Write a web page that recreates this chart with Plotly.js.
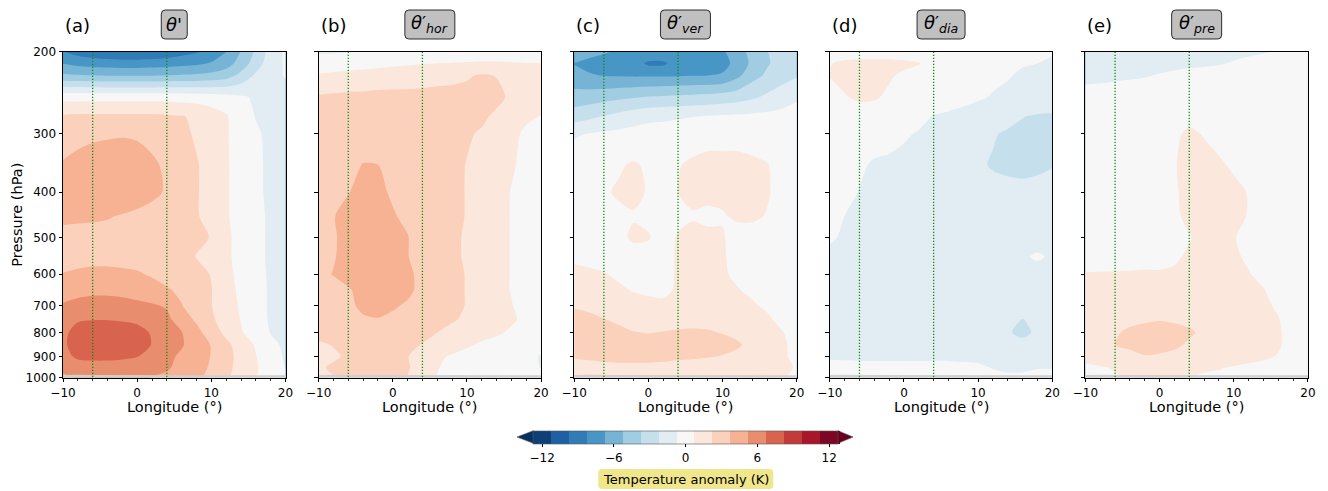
<!DOCTYPE html>
<html>
<head>
<meta charset="utf-8">
<script src="https://cdn.plot.ly/plotly-3.0.1.min.js"></script>
<style>html,body{margin:0;padding:0;background:#fff}</style>
</head>
<body>
<div id="chart" style="width:1328px;height:491px"></div>
<script>
// Longitude grid (deg) and pressure levels (hPa)
const lon = [-10,-8,-6,-4,-2,0,2,4,6,8,10,12,14,16,18,20];
const pressure = [200,212,225,250,275,300,350,400,450,500,550,600,650,700,750,800,850,900,950,1000];

// Temperature anomaly (K), one row per pressure level
const thetaTotal = [
  [-8.2,-8.8,-9.2,-9.5,-9.6,-9.6,-9.5,-9.2,-8.8,-8.4,-7.8,-6.8,-5.2,-3.5,-1.6,-0.5],
  [-6.8,-7.2,-7.4,-7.5,-7.6,-7.6,-7.5,-7.4,-7.2,-7.0,-6.6,-5.9,-4.6,-3.0,-1.4,-0.6],
  [-5.0,-5.1,-5.2,-5.3,-5.3,-5.3,-5.3,-5.2,-5.1,-5.0,-4.8,-4.4,-3.3,-2.0,-1.0,-0.7],
  [0.2,0.2,0.2,0.2,0.2,0.2,0.2,0.2,0.1,0.0,-0.1,-0.3,-0.6,-0.9,-1.0,-1.0],
  [2.4,2.5,2.5,2.5,2.5,2.5,2.5,2.4,2.3,2.1,1.5,0.9,-0.2,-0.8,-1.1,-1.1],
  [3.0,3.2,3.4,3.5,3.6,3.5,3.3,3.0,2.7,2.0,1.4,0.9,0.0,-0.6,-1.0,-1.1],
  [3.9,4.3,4.6,4.8,4.8,4.6,4.0,3.5,3.0,2.4,1.5,0.9,0.2,-0.5,-1.0,-1.3],
  [4.5,4.7,4.9,5.0,4.9,4.6,4.1,3.6,3.0,2.4,1.5,0.9,0.2,-0.5,-1.0,-1.2],
  [4.1,4.0,3.95,3.85,3.65,3.4,3.2,3.0,2.7,2.4,1.6,0.9,0.2,-0.5,-0.9,-1.1],
  [3.3,3.3,3.3,3.3,3.2,3.1,3.0,2.9,2.7,2.5,2.2,1.0,0.3,-0.5,-0.9,-1.1],
  [3.2,3.2,3.3,3.3,3.3,3.2,3.1,3.0,2.7,2.2,1.8,1.0,0.3,-0.5,-0.9,-1.1],
  [3.8,4.0,4.1,4.1,4.0,3.9,3.6,3.3,3.0,2.6,2.2,1.1,0.4,-0.4,-0.9,-1.1],
  [4.6,4.8,4.9,4.9,4.8,4.6,4.3,3.9,3.5,2.9,2.3,1.2,0.5,-0.3,-0.9,-1.1],
  [5.4,5.7,5.9,5.9,5.8,5.6,5.4,5.1,3.8,3.0,2.3,1.3,0.6,-0.3,-0.9,-1.1],
  [6.2,6.6,6.7,6.7,6.6,6.4,6.0,5.6,4.5,3.5,2.5,1.5,0.7,-0.2,-0.9,-1.1],
  [6.4,7.3,7.6,7.6,7.5,7.3,6.6,6.0,5.3,4.2,3.0,1.9,0.9,0.0,-0.8,-1.1],
  [6.5,7.4,7.7,7.7,7.6,7.4,6.7,6.0,5.4,4.4,3.7,2.6,1.6,0.6,-0.4,-1.0],
  [6.3,7.0,7.1,7.1,7.0,6.8,6.2,5.6,5.0,4.3,3.7,2.7,1.8,0.8,-0.2,-0.9],
  [5.9,6.1,6.2,6.2,6.1,6.0,5.7,5.4,4.9,4.2,3.6,2.6,1.8,0.9,0.0,-0.8],
  [4.8,5.4,5.6,5.6,5.5,5.4,5.2,5.0,4.6,4.0,3.4,2.5,1.6,0.8,0.0,-0.6]
];

const thetaHor = [
  [-0.9,-0.9,-0.8,-0.6,-0.4,-0.3,-0.2,-0.1,0.0,0.0,0.0,0.0,0.0,-0.1,-0.2,-0.2],
  [0.0,0.1,0.2,0.3,0.4,0.5,0.6,0.7,0.75,0.8,0.85,0.9,0.9,0.85,0.8,0.8],
  [0.9,1.0,1.1,1.2,1.3,1.4,1.5,1.6,1.8,1.9,2.1,2.4,2.2,1.8,1.3,1.1],
  [2.4,2.5,2.6,2.6,2.7,2.7,2.7,2.7,2.7,2.7,2.7,2.7,2.6,2.0,1.6,1.3],
  [2.6,2.7,2.8,2.8,2.9,2.9,2.9,2.9,2.8,2.7,2.6,2.5,2.0,1.4,1.0,0.7],
  [2.8,2.9,3.0,3.0,3.1,3.1,3.0,2.9,2.8,2.6,2.4,2.1,1.6,1.1,0.5,0.3],
  [3.0,3.2,3.4,3.8,3.76,3.3,3.1,2.95,2.8,2.6,2.2,1.8,1.3,0.9,0.4,0.2],
  [3.1,3.3,3.7,4.1,4.0,3.6,3.3,3.0,2.8,2.5,2.2,1.7,1.2,0.7,0.3,0.2],
  [3.3,3.7,4.1,4.4,4.4,3.85,3.5,3.1,2.8,2.5,2.2,1.6,1.1,0.7,0.3,0.2],
  [3.4,3.6,4.2,4.5,4.5,4.2,3.8,3.1,2.8,2.5,2.1,1.5,1.1,0.7,0.3,0.2],
  [3.4,3.65,4.2,4.5,4.5,4.2,3.8,3.2,2.8,2.5,2.1,1.5,1.1,0.7,0.3,0.2],
  [3.4,3.8,4.3,4.5,4.5,4.3,4.0,3.4,2.8,2.5,2.2,1.5,1.1,0.7,0.3,0.2],
  [3.0,3.3,3.6,4.2,4.4,4.3,4.0,3.4,2.8,2.5,2.2,1.5,1.1,0.7,0.3,0.2],
  [2.9,3.1,3.5,4.0,4.1,3.9,3.6,3.2,2.8,2.5,2.2,1.5,1.1,0.8,0.3,0.2],
  [2.8,2.9,3.2,3.6,3.7,3.5,3.2,3.0,2.7,2.4,2.0,1.4,1.1,0.9,0.5,0.2],
  [2.6,2.7,2.9,3.1,3.2,3.1,2.9,2.6,2.25,1.8,1.4,1.1,0.9,0.6,0.3,0.1],
  [2.1,2.3,2.6,2.8,2.8,2.7,2.5,2.2,1.8,1.4,0.9,0.6,0.4,0.2,0.1,-0.2],
  [1.8,2.1,2.4,2.6,2.6,2.5,2.3,1.7,1.0,0.6,0.4,0.3,0.2,0.1,-0.1,-0.9],
  [2.1,2.4,2.6,2.7,2.7,2.6,2.4,1.5,0.8,0.5,0.4,0.3,0.2,0.1,-0.2,-0.8],
  [1.8,2.2,2.4,2.5,2.5,2.4,2.2,1.3,0.7,0.4,0.3,0.2,0.1,0.0,-0.2,-0.4]
];

const thetaVer = [
  [-5.5,-6.2,-6.6,-6.9,-7.0,-7.2,-7.2,-7.1,-7.0,-7.0,-6.9,-6.1,-4.6,-3.8,-3.1,-2.7],
  [-6.8,-7.2,-7.4,-7.5,-7.6,-8.5,-8.5,-7.6,-7.5,-7.4,-7.2,-6.3,-4.9,-3.9,-3.2,-2.8],
  [-6.3,-6.6,-6.8,-6.85,-6.9,-6.9,-6.9,-6.85,-6.8,-6.75,-6.6,-5.6,-4.3,-3.5,-2.9,-2.4],
  [-4.6,-4.5,-4.3,-4.1,-3.9,-3.7,-3.6,-3.5,-3.4,-3.3,-3.1,-2.9,-2.5,-2.0,-1.4,-0.9],
  [-3.0,-2.6,-2.2,-1.8,-1.4,-1.1,-1.0,-0.9,-0.8,-0.7,-0.6,-0.5,-0.45,-0.4,-0.35,-0.3],
  [-0.9,-0.7,-0.5,-0.4,-0.3,-0.2,-0.2,-0.1,0.3,0.5,0.5,0.5,0.4,0.2,-0.1,-0.1],
  [0.0,0.1,0.3,0.6,0.9,0.55,0.4,0.7,0.9,0.95,0.95,0.95,0.9,0.8,0.4,0.2],
  [0.0,0.2,0.6,0.9,0.9,0.7,0.5,0.76,0.9,0.95,0.9,0.9,0.9,0.85,0.4,0.2],
  [0.0,0.1,0.3,0.5,0.7,0.6,0.5,0.6,0.7,0.6,0.7,0.85,0.9,0.7,0.3,0.1],
  [0.1,0.2,0.4,0.6,0.85,0.8,0.5,0.8,0.9,0.9,0.8,0.5,0.4,0.3,0.2,0.1],
  [0.6,0.5,0.4,0.4,0.5,0.5,0.6,0.8,0.9,0.9,0.8,0.6,0.4,0.3,0.2,0.1],
  [0.95,0.9,0.8,0.6,0.5,0.5,0.6,0.8,0.95,0.95,0.85,0.6,0.4,0.3,0.2,0.1],
  [1.2,1.1,1.0,0.9,0.7,0.6,0.6,0.85,1.0,1.0,0.95,0.8,0.6,0.4,0.2,0.1],
  [2.1,1.9,1.6,1.3,1.1,1.0,0.9,1.1,1.3,1.3,1.2,1.0,0.85,0.6,0.3,0.1],
  [2.8,2.6,2.3,2.0,1.8,1.7,1.7,1.8,1.9,1.9,1.8,1.5,1.2,0.9,0.5,0.2],
  [3.0,2.9,2.8,2.6,2.3,2.2,2.3,2.4,2.4,2.35,2.2,1.8,1.4,1.0,0.8,0.4],
  [3.1,3.1,3.0,3.0,2.9,2.9,2.9,2.9,2.8,2.7,2.6,2.5,1.7,1.2,0.9,0.5],
  [2.4,2.5,2.6,2.6,2.6,2.6,2.6,2.5,2.45,2.35,2.2,1.8,1.4,1.1,0.85,0.6],
  [1.7,1.8,1.9,2.0,2.0,2.0,1.9,1.8,1.7,1.6,1.5,1.3,1.1,1.0,0.9,0.7],
  [1.2,1.3,1.4,1.4,1.4,1.4,1.4,1.3,1.2,1.2,1.1,1.0,0.9,0.9,0.8,0.6]
];

const thetaDia = [
  [-0.2,0.2,0.3,0.3,0.3,0.2,0.1,0.0,-0.1,-0.2,-0.3,-0.4,-0.5,-0.5,-0.6,-0.7],
  [0.7,0.95,1.0,1.0,1.0,0.95,0.8,0.3,0.0,-0.2,-0.4,-0.5,-0.6,-0.7,-0.75,-0.85],
  [0.8,0.95,1.0,0.95,0.85,0.6,0.3,0.0,-0.2,-0.3,-0.5,-0.6,-0.7,-0.85,-0.9,-1.0],
  [0.3,0.7,0.9,0.85,0.6,0.3,0.1,-0.1,-0.3,-0.5,-0.65,-0.8,-0.9,-1.0,-1.0,-1.0],
  [0.1,0.2,0.3,0.3,0.2,0.0,-0.4,-0.8,-0.9,-1.0,-1.1,-1.3,-1.6,-2.2,-2.4,-2.5],
  [0.1,0.1,0.1,0.0,-0.3,-0.6,-0.85,-1.0,-1.1,-1.2,-1.5,-2.1,-2.5,-2.6,-2.6,-2.6],
  [0.1,0.0,-0.5,-0.95,-1.0,-1.1,-1.1,-1.1,-1.2,-1.4,-2.0,-2.4,-2.5,-2.5,-2.4,-2.3],
  [0.0,-0.3,-0.8,-1.0,-1.1,-1.1,-1.1,-1.2,-1.2,-1.3,-1.5,-1.7,-1.9,-2.0,-2.0,-1.9],
  [0.0,-0.75,-1.0,-1.1,-1.1,-1.1,-1.2,-1.2,-1.2,-1.3,-1.3,-1.4,-1.5,-1.5,-1.5,-1.5],
  [-0.6,-0.9,-1.1,-1.1,-1.1,-1.2,-1.2,-1.2,-1.2,-1.2,-1.3,-1.3,-1.3,-1.3,-1.3,-1.3],
  [-1.0,-1.1,-1.1,-1.1,-1.2,-1.2,-1.2,-1.2,-1.2,-1.2,-1.2,-1.2,-1.1,-0.9,-0.6,-0.9],
  [-1.1,-1.2,-1.2,-1.2,-1.2,-1.2,-1.2,-1.2,-1.2,-1.2,-1.2,-1.2,-1.2,-1.2,-1.2,-1.2],
  [-1.2,-1.2,-1.2,-1.2,-1.2,-1.2,-1.2,-1.2,-1.2,-1.2,-1.2,-1.2,-1.2,-1.2,-1.2,-1.2],
  [-1.2,-1.2,-1.2,-1.2,-1.2,-1.3,-1.3,-1.3,-1.3,-1.3,-1.3,-1.3,-1.3,-1.3,-1.3,-1.2],
  [-1.2,-1.2,-1.3,-1.3,-1.3,-1.3,-1.3,-1.3,-1.3,-1.3,-1.3,-1.4,-1.8,-2.3,-1.8,-1.3],
  [-1.2,-1.2,-1.3,-1.3,-1.3,-1.3,-1.3,-1.3,-1.3,-1.3,-1.3,-1.5,-2.1,-2.6,-2.0,-1.3],
  [-1.1,-1.1,-1.2,-1.2,-1.2,-1.2,-1.2,-1.2,-1.2,-1.2,-1.2,-1.4,-2.0,-1.8,-1.4,-1.2],
  [-0.9,-0.95,-1.0,-1.0,-1.0,-1.0,-1.0,-1.0,-1.0,-1.0,-1.0,-1.0,-1.0,-1.0,-1.0,-1.0],
  [-0.4,-0.4,-0.4,-0.4,-0.4,-0.4,-0.4,-0.4,-0.4,-0.5,-0.6,-0.8,-0.9,-0.9,-0.8,-0.8],
  [-0.2,-0.2,-0.2,-0.2,-0.2,-0.2,-0.2,-0.2,-0.3,-0.3,-0.4,-0.5,-0.6,-0.6,-0.5,-0.5]
];

const thetaPre = [
  [-1.2,-1.2,-1.2,-1.2,-1.2,-1.2,-1.2,-1.1,-1.1,-1.0,-0.9,-0.85,-0.8,-0.7,-0.5,-0.4],
  [-1.1,-1.1,-1.1,-1.1,-1.05,-1.0,-0.95,-0.9,-0.85,-0.8,-0.7,-0.6,-0.5,-0.4,-0.3,-0.3],
  [-1.0,-0.95,-0.9,-0.85,-0.8,-0.7,-0.6,-0.5,-0.5,-0.4,-0.3,-0.3,-0.2,-0.2,-0.2,-0.2],
  [-0.4,-0.4,-0.35,-0.3,-0.3,-0.2,-0.2,-0.2,-0.1,-0.1,-0.1,-0.1,-0.1,-0.1,-0.1,-0.1],
  [-0.1,-0.1,-0.1,0.0,0.0,0.1,0.3,0.5,0.4,0.2,0.1,0.0,0.0,0.0,0.0,0.0],
  [0.0,0.0,0.1,0.1,0.2,0.3,0.6,0.9,0.7,0.4,0.2,0.1,0.1,0.0,0.0,0.0],
  [0.0,0.1,0.1,0.2,0.3,0.4,0.7,1.0,1.0,0.9,0.6,0.3,0.1,0.0,0.0,0.0],
  [0.0,0.1,0.2,0.2,0.3,0.5,0.65,1.0,1.1,1.1,1.0,0.7,0.4,0.1,0.0,0.0],
  [0.0,0.1,0.2,0.3,0.4,0.5,0.6,0.95,1.1,1.1,1.0,0.7,0.4,0.1,0.0,0.0],
  [0.1,0.2,0.3,0.4,0.45,0.5,0.55,0.7,1.0,1.0,0.8,0.5,0.3,0.1,0.0,0.0],
  [0.4,0.45,0.5,0.55,0.6,0.6,0.65,0.85,1.1,1.1,0.9,0.6,0.3,0.1,0.0,0.0],
  [0.8,0.8,0.8,0.8,0.8,0.8,0.85,1.0,1.1,1.1,1.0,0.8,0.5,0.2,0.0,0.0],
  [0.9,1.0,1.0,1.05,1.1,1.1,1.1,1.1,1.2,1.2,1.1,1.0,0.8,0.4,0.1,0.0],
  [0.9,1.0,1.1,1.2,1.3,1.3,1.3,1.3,1.3,1.3,1.2,1.1,0.95,0.6,0.2,0.0],
  [1.0,1.2,1.5,1.9,2.1,2.2,2.1,1.8,1.6,1.5,1.4,1.2,1.0,0.8,0.3,0.1],
  [1.2,1.5,2.1,2.5,2.6,2.6,2.6,2.5,1.9,1.6,1.4,1.2,1.0,0.85,0.4,0.1],
  [1.2,1.5,2.25,2.6,2.7,2.7,2.6,2.0,1.6,1.4,1.3,1.2,1.0,0.85,0.4,0.1],
  [1.0,1.2,1.5,1.8,2.2,2.1,1.8,1.5,1.3,1.2,1.1,1.0,0.9,0.7,0.3,0.1],
  [0.6,0.7,0.8,0.85,0.85,0.85,0.85,0.85,0.8,0.8,0.7,0.6,0.5,0.3,0.1,0.0],
  [0.3,0.5,0.7,0.8,0.8,0.8,0.8,0.75,0.7,0.6,0.5,0.4,0.3,0.2,0.1,0.0]
];

// Top of the masked near-surface layer (hPa) along longitude
const surfaceP = [987,985,987,987,986,987,986,987,988,988,987,987,988,986,987,988];

// Box edges (longitude) marked with dotted lines
const boxLons = [-6, 4];

const panelLabels = ['(a)', '(b)', '(c)', '(d)', '(e)'];
const panelTitles = [
  "<i>θ</i>'",
  "<i>θ</i>′<sub><i>hor</i></sub>",
  "<i>θ</i>′<sub><i>ver</i></sub>",
  "<i>θ</i>′<sub><i>dia</i></sub>",
  "<i>θ</i>′<sub><i>pre</i></sub>"
];
const fields = [thetaTotal, thetaHor, thetaVer, thetaDia, thetaPre];

const pressureTicks = [200,300,400,500,600,700,800,900,1000];
const lonTicks = [-10,0,10,20];
const cbarTicks = [-12,-6,0,6,12];

// Filled contour levels (K)
const levelStart = -12.75, levelEnd = 12.75, levelStep = 1.5;

// RdBu reversed
const rdbuR = [
  [0.0,'#053061'],[0.1,'#2166ac'],[0.2,'#4393c3'],[0.3,'#92c5de'],[0.4,'#d1e5f0'],
  [0.5,'#f7f7f7'],[0.6,'#fddbc7'],[0.7,'#f4a582'],[0.8,'#d6604d'],[0.9,'#b2182b'],[1.0,'#67001f']
];

// ---- layout helpers (pixel -> paper fraction) ----
const W = 1328, H = 491;
const fx = px => px / W;
const fy = py => 1 - py / H;
const panelLeft = [63, 318.6, 574.2, 829.8, 1085.4];
const panelWidth = 222.5;
const plotTop = 51.7, plotBottom = 377.7;
const FONT = 'DejaVu Sans, Liberation Sans, sans-serif';

const cbLeft = 533.3, cbRight = 838.0, cbTop = 430.7, cbBottom = 443.3;

// Rounded rectangle path in paper units from a pixel box
function roundRect(x0, y0, x1, y1, r) {
  const P = (x, y) => `${fx(x)},${fy(y)}`;
  return `M ${P(x0 + r, y0)} L ${P(x1 - r, y0)} Q ${P(x1, y0)} ${P(x1, y0 + r)} ` +
         `L ${P(x1, y1 - r)} Q ${P(x1, y1)} ${P(x1 - r, y1)} ` +
         `L ${P(x0 + r, y1)} Q ${P(x0, y1)} ${P(x0, y1 - r)} ` +
         `L ${P(x0, y0 + r)} Q ${P(x0, y0)} ${P(x0 + r, y0)} Z`;
}
// Title box widths (px)
const titleBoxW = [26, 50, 50, 48, 50];

const traces = [];
const layout = {
  width: W, height: H,
  margin: {l: 0, r: 0, t: 0, b: 0},
  paper_bgcolor: '#ffffff', plot_bgcolor: '#ffffff',
  font: {family: FONT, color: '#000'},
  showlegend: false,
  annotations: [],
  shapes: []
};

fields.forEach((z, i) => {
  const sfx = i === 0 ? '' : String(i + 1);
  const xa = 'x' + sfx, ya = 'y' + sfx;

  traces.push({
    type: 'contour', x: lon, y: pressure, z: z,
    xaxis: xa, yaxis: ya,
    colorscale: rdbuR, zmin: levelStart, zmax: levelEnd, zauto: false,
    autocontour: false,
    contours: {start: levelStart, end: levelEnd, size: levelStep, coloring: 'fill', showlines: false},
    line: {width: 0, smoothing: 0.8},
    showscale: i === 0,
    colorbar: {
      orientation: 'h',
      x: fx((cbLeft + cbRight) / 2), xanchor: 'center',
      y: fy(cbTop), yanchor: 'top',
      len: cbRight - cbLeft, lenmode: 'pixels',
      thickness: cbBottom - cbTop, thicknessmode: 'pixels',
      xpad: 0, ypad: 0,
      tickmode: 'array', tickvals: cbarTicks,
      ticks: 'outside', ticklen: 3.5, tickwidth: 1, tickcolor: '#000',
      tickfont: {family: FONT, size: 12, color: '#000'},
      outlinewidth: 0.6, outlinecolor: '#555'
    },
    hoverinfo: 'skip'
  });

  // near-surface mask strip
  traces.push({
    type: 'scatter', mode: 'lines',
    x: lon.concat(lon.slice().reverse()),
    y: surfaceP.concat(lon.map(() => pressure[pressure.length - 1])),
    fill: 'toself', fillcolor: '#cfcfcf',
    line: {width: 0, color: '#cfcfcf'},
    xaxis: xa, yaxis: ya, hoverinfo: 'skip'
  });

  // dotted box edges
  boxLons.forEach(bl => {
    traces.push({
      type: 'scatter', mode: 'lines',
      x: [bl, bl], y: [pressure[0], pressure[pressure.length - 1]],
      line: {color: '#0c8f0c', width: 1.3, dash: '1.4px,1.6px'},
      xaxis: xa, yaxis: ya, hoverinfo: 'skip'
    });
  });

  const left = panelLeft[i];
  const cx = left + panelWidth / 2;
  layout['xaxis' + sfx] = {
    domain: [fx(left), fx(left + panelWidth)],
    anchor: ya,
    range: [lon[0], lon[lon.length - 1]],
    tickmode: 'array', tickvals: lonTicks,
    ticks: 'outside', ticklen: 3.5, tickwidth: 1, tickcolor: '#000',
    tickfont: {family: FONT, size: 12, color: '#000'},
    minor: {tickmode: 'linear', tick0: -10, dtick: 2, ticks: 'outside', ticklen: 2, tickwidth: 0.8, tickcolor: '#000', showgrid: false},
    showline: true, mirror: true, linecolor: '#000', linewidth: 1,
    showgrid: false, zeroline: false, fixedrange: true
  };
  layout['yaxis' + sfx] = {
    domain: [fy(plotBottom), fy(plotTop)],
    anchor: xa,
    type: 'log',
    range: [Math.log10(pressure[pressure.length - 1]), Math.log10(pressure[0])],
    tickmode: 'array', tickvals: pressureTicks, ticktext: pressureTicks.map(String),
    showticklabels: i === 0,
    ticks: 'outside', ticklen: 3.5, tickwidth: 1, tickcolor: '#000',
    tickfont: {family: FONT, size: 12, color: '#000'},
    showline: true, mirror: true, linecolor: '#000', linewidth: 1,
    showgrid: false, zeroline: false, fixedrange: true
  };

  // rounded grey title box
  layout.shapes.push({
    type: 'path', xref: 'paper', yref: 'paper', layer: 'above',
    path: roundRect(cx - titleBoxW[i] / 2, 10, cx + titleBoxW[i] / 2, 39, 4),
    fillcolor: '#c0c0c0', line: {color: '#000', width: 0.8}
  });

  layout.annotations.push({
    xref: 'paper', yref: 'paper', x: fx(left), y: fy(25),
    xanchor: 'left', yanchor: 'middle', showarrow: false,
    text: panelLabels[i], font: {family: FONT, size: 18, color: '#000'}
  });
  layout.annotations.push({
    xref: 'paper', yref: 'paper', x: fx(cx), y: fy(24.5),
    xanchor: 'center', yanchor: 'middle', showarrow: false,
    text: panelTitles[i], font: {family: FONT, size: 18, color: '#000'}
  });
  layout.annotations.push({
    xref: 'paper', yref: 'paper', x: fx(cx), y: fy(406.5),
    xanchor: 'center', yanchor: 'middle', showarrow: false,
    text: 'Longitude (°)', font: {family: FONT, size: 14.5, color: '#000'}
  });
});

layout.annotations.push({
  xref: 'paper', yref: 'paper', x: fx(17), y: fy((plotTop + plotBottom) / 2),
  xanchor: 'center', yanchor: 'middle', showarrow: false, textangle: -90,
  text: 'Pressure (hPa)', font: {family: FONT, size: 14.5, color: '#000'}
});

// khaki label box under the colour bar
layout.shapes.push({
  type: 'path', xref: 'paper', yref: 'paper', layer: 'above',
  path: roundRect(598.3, 469, 773.3, 489, 4),
  fillcolor: '#f0e68c', line: {width: 0}
});
layout.annotations.push({
  xref: 'paper', yref: 'paper', x: fx((598.3 + 773.3) / 2), y: fy(479),
  xanchor: 'center', yanchor: 'middle', showarrow: false,
  text: 'Temperature anomaly (K)', font: {family: FONT, size: 13, color: '#000'}
});

// extension triangles at both ends of the colour bar
const cbMid = (cbTop + cbBottom) / 2;
layout.shapes.push({
  type: 'path', xref: 'paper', yref: 'paper',
  path: `M ${fx(cbLeft - 16.3)} ${fy(cbMid)} L ${fx(cbLeft)} ${fy(cbTop)} L ${fx(cbLeft)} ${fy(cbBottom)} Z`,
  fillcolor: rdbuR[0][1], line: {width: 0.6, color: '#555'}
});
layout.shapes.push({
  type: 'path', xref: 'paper', yref: 'paper',
  path: `M ${fx(cbRight + 15)} ${fy(cbMid)} L ${fx(cbRight)} ${fy(cbTop)} L ${fx(cbRight)} ${fy(cbBottom)} Z`,
  fillcolor: rdbuR[rdbuR.length - 1][1], line: {width: 0.6, color: '#555'}
});

Plotly.newPlot('chart', traces, layout, {staticPlot: true, displayModeBar: false});
</script>
</body>
</html>
